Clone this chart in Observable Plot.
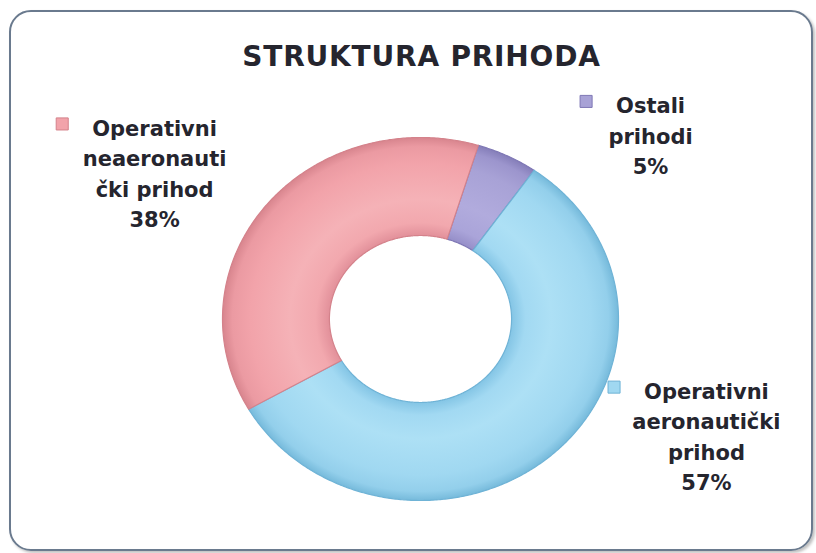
<!DOCTYPE html>
<html>
<head>
<meta charset="utf-8">
<script src="https://cdn.jsdelivr.net/npm/d3@7"></script>
<script src="https://cdn.jsdelivr.net/npm/@observablehq/plot@0.6"></script>
<style>
  body { margin: 0; background: #ffffff; }
  #wrap { position: relative; width: 816px; height: 553px; overflow: hidden; }
  #frame { position: absolute; left: 9px; top: 10px; width: 804px; height: 541px; box-sizing: border-box;
           border: 2.5px solid #6a7a8e; border-radius: 22px; box-shadow: 2px 2px 3px rgba(0,0,0,0.25); }
  #chart { position: absolute; left: 0; top: 0; }
</style>
</head>
<body>
<div id="wrap"><div id="frame"></div><div id="chart"></div></div>
<script>
// ---- data ----
const title = "STRUKTURA PRIHODA";
const categories = ["Ostali prihodi", "Operativni aeronautički prihod", "Operativni neaeronautički prihod"];
const shares = [5, 57, 38];
const labelTexts = ["Ostali\nprihodi", "Operativni\naeronautički\nprihod", "Operativni\nneaeronauti\nčki prihod"];
const percentLabels = ["5%", "57%", "38%"];

// ---- style / layout ----
const baseColors = ["#a8a2d6", "#a0d8f1", "#f2a3aa"];
const rimColors  = ["#7f78b5", "#6fb3d6", "#d4828b"];
const gradStops = [
  ["#958ec8", "#aaa4d9", "#b1abdd", "#a8a2d6", "#9c95cd", "#857eb9"],
  ["#84c5e5", "#a2d9f2", "#ade0f5", "#a0d8f1", "#93cfeb", "#76badb"],
  ["#e2909a", "#f2a8ae", "#f5b2b7", "#f2a3aa", "#eb9aa2", "#d8858e"]
];
const stopOffsets = [0.46, 0.53, 0.66, 0.86, 0.95, 1.0];
const cx = 420, cy = 318.5, rx = 198, ry = 181.5, innerRatio = 0.46, startDeg = 17;
const labelAnchor = [[1.162, 1.020], [1.444, -0.638], [-1.343, 0.812]];
const font = "DejaVu Sans";
const labelSize = 21, lineH = 1.45;
const textColor = "#25252e";

// ---- geometry from data ----
const total = d3.sum(shares);
let acc = 0;
const slices = shares.map((v, i) => {
  const a0 = (startDeg + acc / total * 360) * Math.PI / 180;
  acc += v;
  const a1 = (startDeg + acc / total * 360) * Math.PI / 180;
  return {i, name: categories[i], a0, a1};
});
function ringPoints(s) {
  const n = Math.max(4, Math.ceil((s.a1 - s.a0) / (Math.PI / 360)));
  const pts = [];
  for (let k = 0; k <= n; k++) { const a = s.a0 + (s.a1 - s.a0) * k / n; pts.push({x: Math.sin(a), y: Math.cos(a), name: s.name}); }
  for (let k = n; k >= 0; k--) { const a = s.a0 + (s.a1 - s.a0) * k / n; pts.push({x: innerRatio * Math.sin(a), y: innerRatio * Math.cos(a), name: s.name}); }
  return pts;
}

const ctx = document.createElement("canvas").getContext("2d");
ctx.font = `bold ${labelSize}px "${font}"`;
const labels = shares.map((v, i) => {
  const text = labelTexts[i] + "\n" + percentLabels[i];
  const lines = text.split("\n");
  const firstW = ctx.measureText(lines[0]).width;
  return {x: labelAnchor[i][0], y: labelAnchor[i][1], text, n: lines.length, firstW, i};
});

const marks = [];
slices.forEach(s => {
  marks.push(Plot.line(ringPoints(s), {x: "x", y: "y", curve: "linear-closed",
    fill: `url(#grad${s.i})`, stroke: rimColors[s.i], strokeWidth: 1.2}));
});
labels.forEach(l => {
  marks.push(Plot.text([l], {x: "x", y: "y", text: "text", textAnchor: "middle", lineAnchor: "middle",
    lineHeight: lineH, fontFamily: font, fontSize: labelSize, fontWeight: "bold", fill: textColor}));
  marks.push(Plot.dot([l], {x: "x", y: "y", symbol: "square", r: 6.8, fill: baseColors[l.i], stroke: rimColors[l.i], strokeWidth: 1,
    dx: -(l.firstW / 2 + 30), dy: -(l.n - 1) / 2 * lineH * labelSize - 2}));
});
marks.push(Plot.text([title], {frameAnchor: "top", lineAnchor: "middle", dx: 13, dy: 57,
  fontFamily: font, fontSize: 28, fontWeight: "bold", fill: textColor}));

const chart = Plot.plot({
  width: 816, height: 553, margin: 0,
  x: {domain: [-1, 1], range: [cx - rx, cx + rx], axis: null},
  y: {domain: [-1, 1], range: [cy + ry, cy - ry], axis: null},
  style: {background: "transparent", overflow: "visible"},
  marks
});

const defs = d3.select(chart).insert("defs", ":first-child");
gradStops.forEach((stops, i) => {
  const g = defs.append("radialGradient").attr("id", `grad${i}`)
    .attr("gradientUnits", "userSpaceOnUse").attr("cx", cx).attr("cy", cy).attr("r", rx)
    .attr("gradientTransform", `translate(0,${cy}) scale(1,${ry / rx}) translate(0,${-cy})`);
  stops.forEach((c, k) => g.append("stop").attr("offset", stopOffsets[k]).attr("stop-color", c));
});
d3.select(chart).selectAll("text").filter(function() { return this.textContent === title; })
  .style("letter-spacing", "0.8px");
document.getElementById("chart").appendChild(chart);
</script>
</body>
</html>
